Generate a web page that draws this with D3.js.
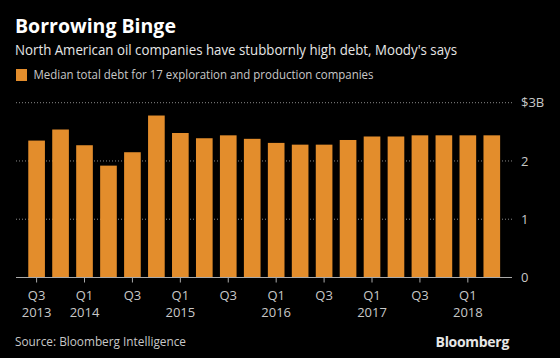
<!DOCTYPE html>
<html><head><meta charset="utf-8">
<script src="https://cdn.jsdelivr.net/npm/d3@7"></script>
<style>
html,body{margin:0;padding:0;background:#000;}
svg{display:block;}
text{font-family:"Open Sans","Noto Sans",sans-serif;}
</style></head>
<body>
<svg id="c" width="560" height="358"></svg>
<script>
const categories = ["2013Q3","2013Q4","2014Q1","2014Q2","2014Q3","2014Q4","2015Q1","2015Q2","2015Q3","2015Q4",
  "2016Q1","2016Q2","2016Q3","2016Q4","2017Q1","2017Q2","2017Q3","2017Q4","2018Q1","2018Q2"];
const debtValues = [2.35,2.54,2.27,1.92,2.15,2.78,2.48,2.39,2.44,2.38,2.31,2.28,2.28,2.36,2.42,2.42,2.44,2.44,2.44,2.44];
const xTickCats = ["2013Q3","2014Q1","2014Q3","2015Q1","2015Q3","2016Q1","2016Q3","2017Q1","2017Q3","2018Q1"];
const xTickLabels = [["Q3","2013"],["Q1","2014"],["Q3",""],["Q1","2015"],["Q3",""],["Q1","2016"],["Q3",""],["Q1","2017"],["Q3",""],["Q1","2018"]];
const yTicks = [0,1,2,3];
const yTickLabels = ["0","1","2","$3B"];

const svg = d3.select("#c");
const W = 560, H = 358;
svg.append("rect").attr("width",W).attr("height",H).attr("fill","#000");

const plotLeft = 16, plotRight = 512, baseY = 277.5, topY = 102.7;
const x = d3.scaleBand().domain(categories).range([24.2, 504.2]).paddingInner(0.305).paddingOuter(0.17);
const y = d3.scaleLinear().domain([0,3]).range([baseY, topY]);

// gridlines
const grid = svg.append("g");
grid.selectAll("line").data(yTicks.filter(d=>d>0)).enter().append("line")
  .attr("x1", plotLeft).attr("x2", plotRight)
  .attr("y1", d=>y(d)).attr("y2", d=>y(d))
  .attr("stroke","#888").attr("stroke-width",1).attr("stroke-dasharray","1,2");

// bars
svg.append("g").selectAll("rect").data(categories).enter().append("rect")
  .attr("x", d=>x(d)).attr("width", x.bandwidth())
  .attr("y", (d,i)=>y(debtValues[i])).attr("height", (d,i)=>baseY - y(debtValues[i]))
  .attr("fill","#e38d2c");

// baseline
svg.append("line").attr("x1",plotLeft).attr("x2",plotRight).attr("y1",baseY).attr("y2",baseY)
  .attr("stroke","#aaa").attr("stroke-width",1);

// y axis labels
const yAxis = d3.axisRight(y).tickValues(yTicks).tickSize(0).tickPadding(0)
  .tickFormat((d,i)=>yTickLabels[i]);
const ya = svg.append("g").attr("transform",`translate(${plotRight+9},0)`).call(yAxis);
ya.select(".domain").remove();
ya.selectAll("text").attr("fill","#c8c8c8").style("font-size","13px").attr("font-family","'Open Sans','Noto Sans',sans-serif");

// x axis
const xAxis = d3.axisBottom(x).tickValues(xTickCats).tickSize(5).tickFormat("");
const xa = svg.append("g").attr("transform",`translate(0,${baseY})`).call(xAxis);
xa.select(".domain").remove();
xa.selectAll(".tick line").attr("stroke","#aaa");
xa.selectAll(".tick").each(function(d,i){
  const t = d3.select(this).append("text").attr("fill","#c8c8c8").attr("text-anchor","middle")
    .style("font-size","13px").attr("font-family","'Open Sans','Noto Sans',sans-serif");
  t.append("tspan").attr("x",0).attr("y",22).text(xTickLabels[i][0]);
  t.append("tspan").attr("x",0).attr("y",39).text(xTickLabels[i][1]);
});

// title etc
svg.append("text").attr("x",15).attr("y",33).text("Borrowing Binge")
  .attr("fill","#fff").style("font-size","19.5px").style("font-weight","bold")
  .attr("font-family","'Liberation Sans',Arial,sans-serif");
svg.append("text").attr("x",15).attr("y",55).text("North American oil companies have stubbornly high debt, Moody's says")
  .attr("fill","#e6e6e6").style("font-size","15px").attr("textLength",442).attr("lengthAdjust","spacingAndGlyphs");
svg.append("rect").attr("x",16).attr("y",69).attr("width",11).attr("height",12).attr("fill","#e38d2c");
svg.append("text").attr("x",33.5).attr("y",79).text("Median total debt for 17 exploration and production companies")
  .attr("fill","#c8c8c8").style("font-size","13px").attr("textLength",340).attr("lengthAdjust","spacingAndGlyphs");
svg.append("text").attr("x",15).attr("y",346).text("Source: Bloomberg Intelligence")
  .attr("fill","#c8c8c8").style("font-size","13px").attr("textLength",171).attr("lengthAdjust","spacingAndGlyphs");
svg.append("text").attr("x",509).attr("y",347).attr("text-anchor","end").text("Bloomberg")
  .attr("fill","#e6e6e6").style("font-size","14px").style("font-weight","bold")
  .attr("font-family","'Liberation Sans',Arial,sans-serif").attr("letter-spacing","-0.3");
</script>
</body></html>
